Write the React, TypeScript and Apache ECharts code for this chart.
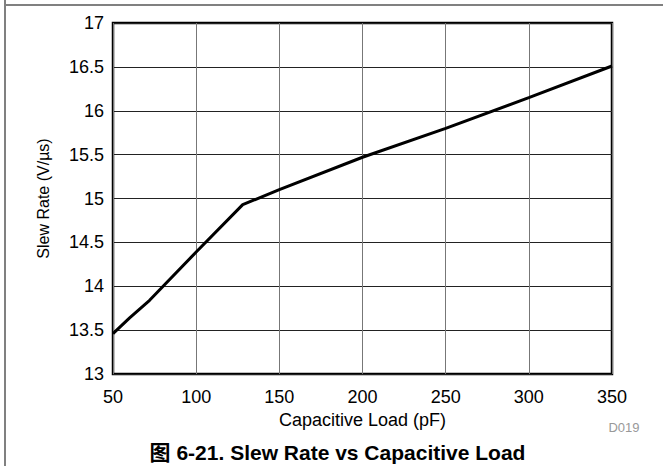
import React, { useEffect, useRef } from "react";
import * as echarts from "echarts";

const capacitiveLoad = [50, 60, 72, 100, 128, 150, 200, 250, 300, 350];
const slewRate = [13.46, 13.64, 13.84, 14.39, 14.93, 15.1, 15.47, 15.8, 16.15, 16.51];
const xTicks = { min: 50, max: 350, interval: 50 };
const yTicks = { min: 13, max: 17, interval: 0.5 };
const xName = "Capacitive Load (pF)";
const yName = "Slew Rate (V/µs)";
const titleText = "图 6-21. Slew Rate vs Capacitive Load";
const codeText = "D019";

const FONT = "'Liberation Sans', Arial, Helvetica, sans-serif";

export default function App() {
  const ref = useRef<HTMLDivElement>(null);
  useEffect(() => {
    if (!ref.current) return;
    const chart = echarts.init(ref.current, null, { renderer: "svg" });
    const data = capacitiveLoad.map((x, i) => [x, slewRate[i]]);
    chart.setOption({
      animation: false,
      backgroundColor: "#ffffff",
      grid: {
        left: 113,
        top: 23,
        right: 51,
        bottom: 92,
        show: true,
        borderColor: "#000",
        borderWidth: 2.5,
        containLabel: false,
      },
      xAxis: {
        type: "value",
        min: xTicks.min,
        max: xTicks.max,
        interval: xTicks.interval,
        name: xName,
        nameLocation: "middle",
        nameGap: 35,
        nameTextStyle: { fontFamily: FONT, fontSize: 18, color: "#000" },
        axisLine: { show: false },
        axisTick: { show: false },
        axisLabel: { fontFamily: FONT, fontSize: 18, color: "#000", margin: 14 },
        splitLine: { show: true, lineStyle: { color: "#777", width: 1 } },
      },
      yAxis: {
        type: "value",
        min: yTicks.min,
        max: yTicks.max,
        interval: yTicks.interval,
        name: yName,
        nameLocation: "middle",
        nameGap: 62,
        nameTextStyle: { fontFamily: FONT, fontSize: 16, color: "#000" },
        axisLine: { show: false },
        axisTick: { show: false },
        axisLabel: { fontFamily: FONT, fontSize: 18, color: "#000", margin: 9 },
        splitLine: { show: true, lineStyle: { color: "#222", width: 1 } },
      },
      series: [
        {
          type: "line",
          data,
          showSymbol: false,
          symbol: "none",
          lineStyle: { color: "#000", width: 3 },
          z: 5,
        },
      ],
      graphic: [
        {
          type: "line",
          shape: { x1: 5, y1: 0, x2: 5, y2: 466 },
          style: { stroke: "#808080", lineWidth: 2 },
        },
        {
          type: "line",
          shape: { x1: 5, y1: 5, x2: 663, y2: 5 },
          style: { stroke: "#808080", lineWidth: 2 },
        },
        {
          type: "text",
          x: 624,
          y: 427,
          style: {
            text: codeText,
            fontFamily: FONT,
            fontSize: 13,
            fill: "#999",
            align: "center",
            verticalAlign: "middle",
          },
        },
        {
          type: "text",
          x: 337.5,
          y: 452,
          style: {
            text: titleText,
            fontFamily: "'Liberation Sans', Arial, 'Noto Sans CJK SC', sans-serif",
            fontSize: 21,
            fontWeight: "bold",
            fill: "#000",
            align: "center",
            verticalAlign: "middle",
          },
        },
      ],
    });
    return () => chart.dispose();
  }, []);
  return (
    <div
      ref={ref}
      style={{ position: "fixed", left: 0, top: 0, width: 663, height: 466, background: "#fff" }}
    />
  );
}
